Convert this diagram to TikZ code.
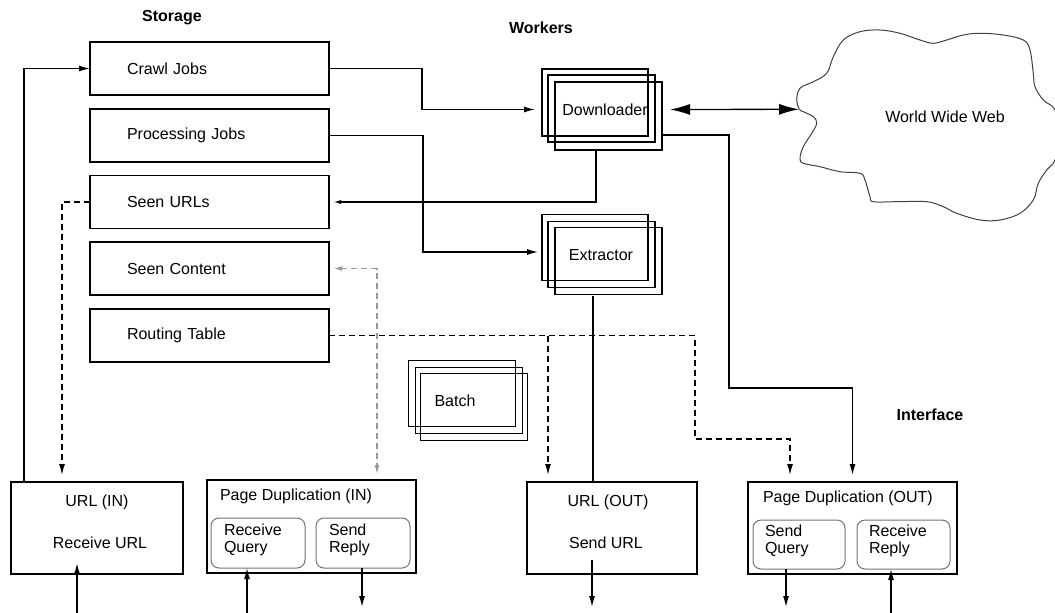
\documentclass[tikz,border=0pt]{standalone}
\usepackage{fontspec}
\setmainfont{Liberation Sans}
\usetikzlibrary{arrows.meta}
\begin{document}
\begin{tikzpicture}[x=1pt,y=-1pt,
 every node/.style={font=\fontsize{16}{17}\selectfont, inner sep=0pt, outer sep=0pt},
 box/.style={draw, line width=1.6pt, rectangle},
 sbox/.style={box, minimum width=239pt, minimum height=53pt, text width=165pt, align=left, inner xsep=37pt},
 lbox/.style={box, minimum width=172pt, minimum height=92pt},
 rbox/.style={draw=black!55, line width=1pt, rounded corners=8pt, minimum height=50pt, minimum width=93pt},
 rtext/.style={anchor=north west, align=left, font=\fontsize{16}{17}\selectfont},
 grp/.style={minimum width=120pt, minimum height=81pt},
 layer/.style={line width=1.6pt},
 lbl/.style={font=\fontsize{16}{17}\selectfont\bfseries},
 conn/.style={line width=1.3pt},
 arr/.style={conn, -{Latex[length=11pt,width=6pt]}},
 sarr/.style={conn, -{Latex[length=8pt,width=4pt]}},
 darr/.style={arr, dash pattern=on 6pt off 4pt},
 garr/.style={line width=1.2pt, draw=black!40, dash pattern=on 6pt off 4pt, {Latex[length=8pt,width=5pt]}-{Latex[length=9pt,width=5pt]}},
 bigarr/.style={conn, {Latex[length=20pt,width=11pt]}-{Latex[length=20pt,width=11pt]}},
 cloudline/.style={draw=black!75, line width=1pt},
]
\path[use as bounding box] (0,0) rectangle (1055,613);

% section labels
\node[lbl] (lstorage) at (172,18) {Storage};
\node[lbl] (lworkers) at (541,28) {Workers};
\node[lbl] (linterface) at (930,415) {Interface};

% storage
\node[sbox] (crawl) at (209.5,68.5) {Crawl Jobs};
\node[sbox] (proc) at (209.5,135.5) {Processing Jobs};
\node[sbox] (seen) at (209.5,202) {Seen URLs};
\node[sbox] (content) at (209.5,268.5) {Seen Content};
\node[sbox] (routing) at (209.5,335.5) {Routing Table};

% workers
\node[grp] (dl) at (602,109.5) {};
\draw[layer] (dl.north west) rectangle ++(106,67);
\draw[layer] ([shift={(6,6)}]dl.north west) rectangle ++(107,67);
\draw[layer] ([shift={(13,13)}]dl.north west) rectangle ++(107,68);
\node (tdl) at (605,110) {Downloader};

\node[grp] (ex) at (602,255) {};
\draw[layer] (ex.north west) rectangle ++(106,66);
\draw[layer] ([shift={(6,7)}]ex.north west) rectangle ++(107,66);
\draw[layer] ([shift={(13,13)}]ex.north west) rectangle ++(107,67);
\node (tex) at (601,255) {Extractor};

\node[grp] (batch) at (468.5,401) {};
\draw[layer] (batch.north west) rectangle ++(107,66);
\draw[layer] ([shift={(7,7)}]batch.north west) rectangle ++(107,66);
\draw[layer] ([shift={(12,13)}]batch.north west) rectangle ++(107,67);
\node (tbatch) at (455,401) {Batch};

% cloud
\draw[cloudline] plot[smooth cycle, tension=0.6] coordinates {
(799.3,109.3) (796.7,100) (800,88.3) (813.3,81.7) (826.7,73.3) (833.3,56.7)
(843.3,40) (860,31.7) (880,30) (900,33.3) (920,40) (933.3,43.3) (946.7,40)
(963.3,35) (980,33.3) (1003.3,35) (1023.3,40) (1030,50) (1033.3,73.3)
(1035,86.7) (1043.3,100) (1055,110) (1059,135) (1055,160) (1046.7,170)
(1038.3,183.3) (1033.3,200) (1020,213.3) (1000,220) (980,220) (956.7,213.3)
(943.3,206.7) (926.7,201.7) (896.7,201.7) (873.3,201.7) (870,196.7) (865,180)
(860,173.3) (840,171.7) (820,166.7) (803.3,163.3) (800,158.3) (803.3,146.7)
(811.7,133.3) (816.7,123.3) (813.3,116.7) (803.3,111.7)};
\coordinate (wwwL) at (799,109.3);
\node (www) at (945,117) {World Wide Web};

% interface boxes
\node[lbox] (urlin) at (97,528) {};
\node (tUrlIn) at (97,502) {URL (IN)};
\node (tRecUrl) at (100,543) {Receive URL};

\node[box, minimum width=209pt, minimum height=93pt] (pdin) at (311.5,526.5) {};
\node[anchor=west] (tPdIn) at (220,496) {Page Duplication (IN)};
\node[rbox, minimum width=94pt] (rq) at (258,543) {};
\node[rtext] (trq) at (224,524) {Receive\\Query};
\node[rbox, minimum width=94pt] (sr) at (363,543) {};
\node[rtext] (tsr) at (329,524) {Send\\Reply};

\node[lbox, minimum width=170pt] (urlout) at (612,528) {};
\node (tUrlOut) at (608,502) {URL (OUT)};
\node (tSendUrl) at (606,543) {Send URL};

\node[box, minimum width=209pt, minimum height=92pt] (pdout) at (852.5,528) {};
\node[anchor=west] (tPdOut) at (763,498) {Page Duplication (OUT)};
\node[rbox, minimum width=92pt, minimum height=49pt] (sq) at (799,544.5) {};
\node[rtext] (tsq) at (765,525) {Send\\Query};
\node[rbox, minimum height=49pt] (rr) at (903.5,544.5) {};
\node[rtext] (trr) at (869,525) {Receive\\Reply};

% connectors
\draw[arr] ([xshift=13pt]urlin.north west) |- (crawl.west);
\draw[darr, shorten >=7pt] (seen.west) -| ([xshift=51pt]urlin.north west);
\draw[arr, shorten >=7pt] (crawl.east) -| (422,109.5) -- (dl.west);
\draw[arr, shorten >=4pt] (proc.east) -| (423,252) -- (ex.west |- 0,252);
\draw[sarr, shorten >=4pt] ([xshift=-6pt]dl.south) |- (seen.east);
\draw[arr, shorten >=7pt] ([yshift=-25.5pt]dl.east) -| (729,388) -| (pdout.north);
\draw[darr, shorten >=7pt] (routing.east) -| (695,439) -| ([xshift=42pt]pdout.north west);
\coordinate (rt) at ([xshift=21pt]urlout.north west);
\draw[darr, shorten >=7pt] (rt |- routing.east) -- (rt);
\draw[garr, shorten >=6pt, shorten <=5pt] (content.east) -| ([xshift=170pt]pdin.north west);
\coordinate (exs) at ([xshift=-9pt]ex.south);
\draw[conn] (exs) -- (exs |- urlout.north);
\draw[bigarr, shorten <=8pt] (dl.east) -- (wwwL);

% external arrows
\coordinate (inA) at (77,613);
\draw[arr] (inA) -- ++(0,-50);
\coordinate (inB) at (247,613);
\draw[arr] (inB) -- (inB |- rq.south);
\draw[arr] ([xshift=-1pt]sr.south) -- ++(0,39);
\coordinate (outA) at (592,560);
\draw[arr] (outA) -- ++(0,47);
\draw[arr] ([xshift=-13pt]sq.south) -- ++(0,38);
\coordinate (inC) at (891,613);
\draw[arr] (inC) -- (inC |- rr.south);
\end{tikzpicture}
\end{document}
